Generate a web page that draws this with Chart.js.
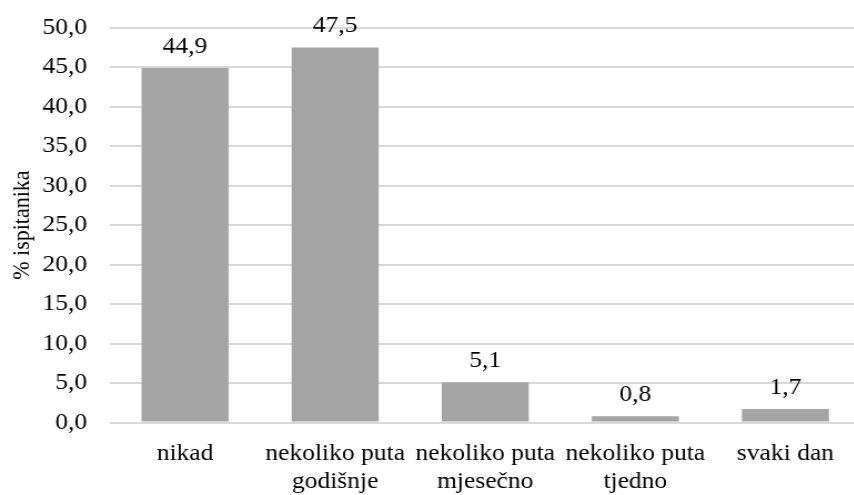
<!DOCTYPE html>
<html>
<head>
<meta charset="utf-8">
<script src="https://cdn.jsdelivr.net/npm/chart.js@4/dist/chart.umd.min.js"></script>
<style>
html,body{margin:0;padding:0;background:#fff;overflow:hidden;width:854px;height:495px;}
#wrap{position:absolute;left:0;top:0;width:777px;height:495px;transform:scaleX(1.11);transform-origin:0 0;}
</style>
</head>
<body>
<div id="wrap"><canvas id="c" width="777" height="495"></canvas></div>
<script>
const categories = [
  "nikad",
  ["nekoliko puta", "godišnje"],
  ["nekoliko puta", "mjesečno"],
  ["nekoliko puta", "tjedno"],
  "svaki dan"
];
const values = [44.9, 47.5, 5.1, 0.8, 1.7];
const yTitle = "% ispitanika";
const yMin = 0, yMax = 50, yStep = 5;

const FONT = "'Liberation Serif', 'Times New Roman', serif";
const fmt = v => Number(v).toFixed(1).replace('.', ',');

const labelPlugin = {
  id: 'valueLabels',
  afterDatasetsDraw(chart) {
    const ctx = chart.ctx;
    const meta = chart.getDatasetMeta(0);
    ctx.save();
    ctx.font = "23px " + FONT;
    ctx.fillStyle = "#000";
    ctx.textAlign = "center";
    ctx.textBaseline = "alphabetic";
    meta.data.forEach((bar, i) => {
      ctx.fillText(fmt(values[i]), bar.x, bar.y - 15);
    });
    ctx.restore();
  }
};

new Chart(document.getElementById('c'), {
  type: 'bar',
  data: {
    labels: categories,
    datasets: [{
      data: values,
      backgroundColor: '#a5a5a5',
      borderWidth: 0,
      categoryPercentage: 1.0,
      barPercentage: 0.58
    }]
  },
  options: {
    responsive: false,
    animation: false,
    devicePixelRatio: 1,
    layout: { padding: { top: 27.7, right: 1.8, left: 0, bottom: 0 } },
    plugins: { legend: { display: false }, tooltip: { enabled: false } },
    scales: {
      x: {
        grid: { display: false, drawTicks: false },
        border: { display: false },
        ticks: {
          color: '#000',
          font: { family: FONT, size: 23, lineHeight: 1.2 },
          padding: 18,
          maxRotation: 0,
          autoSkip: false
        },
        afterFit(scale) { scale.height = 72.5; }
      },
      y: {
        min: yMin, max: yMax,
        grid: { color: '#d9d9d9', lineWidth: 2, drawTicks: false },
        border: { display: false },
        ticks: {
          stepSize: yStep,
          color: '#000',
          font: { family: FONT, size: 23 },
          padding: 20.5,
          callback: v => fmt(v)
        },
        title: {
          display: true,
          text: yTitle,
          color: '#000',
          font: { family: FONT, size: 22 },
          padding: { top: 6.6, bottom: 0 }
        },
        afterFit(scale) {
          scale.width = 99.1;
          scale.paddingTop = 0;
          scale.paddingBottom = 0;
        }
      }
    }
  },
  plugins: [labelPlugin]
});
</script>
</body>
</html>
